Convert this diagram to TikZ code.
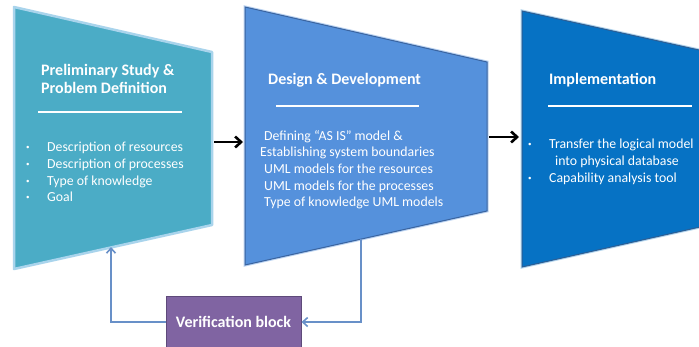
\documentclass[tikz,border=0pt]{standalone}
\usepackage{fontspec}
\setmainfont{Carlito}
\usetikzlibrary{arrows.meta}

\newcommand{\listdot}{\makebox[21pt][l]{\raisebox{2pt}{\scriptsize\textbullet}}}

\begin{document}
\begin{tikzpicture}[x=1pt, y=-1pt,
    title/.style={anchor=west, inner sep=0pt, text=white, font=\fontsize{16}{18.5}\selectfont\bfseries, align=left},
    body/.style={anchor=north west, inner sep=0pt, text=white, font=\fontsize{13.8}{16.7}\selectfont, align=left},
    rule/.style={white, line width=2.5pt},
    flow/.style={-{Straight Barb[length=6pt, width=11pt]}, line width=2.6pt, black},
    feedback/.style={-{Straight Barb[length=5pt, width=9pt]}, line width=1.6pt, feedblue}]
    % Define colors
    \definecolor{prelimteal}{HTML}{4BACC6}
    \definecolor{prelimglow}{HTML}{A9D4EC}
    \definecolor{designblue}{HTML}{5591DC}
    \definecolor{designedge}{HTML}{3A64A0}
    \definecolor{implblue}{HTML}{0672C4}
    \definecolor{impledge}{HTML}{2D5E94}
    \definecolor{verifpurple}{HTML}{8064A2}
    \definecolor{verifedge}{HTML}{5E4A7A}
    \definecolor{feedblue}{HTML}{6890C8}

    % Page frame (clips the third stage at the right edge)
    \clip (0,0) rectangle (699,346);
    \fill[white] (0,0) rectangle (699,346);

    % Stage 1: preliminary study
    \filldraw[fill=prelimteal, draw=prelimglow, line width=2.5pt, line join=round]
      (14,7) -- (212,52) -- (212,225) -- (14,269) -- cycle;
    \coordinate (prelim-east) at (212,142);
    \coordinate (prelim-bottom) at (111,247);

    % Stage 2: design and development
    \filldraw[fill=designblue, draw=designedge, line width=1pt,
      preaction={draw=designblue!40, line width=3pt}]
      (245,7) -- (487,62) -- (487,211) -- (245,265) -- cycle;
    \coordinate (design-west) at (245,142);
    \coordinate (design-east) at (487,137);
    \coordinate (design-bottom) at (361,239);

    % Stage 3: implementation (runs past the right edge)
    \filldraw[fill=implblue, draw=impledge, line width=1pt,
      preaction={draw=implblue!30, line width=3pt}]
      (522,11) -- (740,59) -- (740,218) -- (522,267) -- cycle;
    \coordinate (impl-west) at (522,137);

    % Titles and rules
    \node[title] (prelim-title) at (41,79) {Preliminary Study \&\\Problem Definition};
    \draw[rule] (38,112) -- (182,112);
    \node[title] (design-title) at (268,80) {Design \& Development};
    \draw[rule] (276,106) -- (419,106);
    \node[title] (impl-title) at (549,80) {Implementation};
    \draw[rule] (548,106) -- (692,106);

    % Bullet lists
    \node[body] (prelim-list) at (26,142) {%
      \listdot Description of resources\\
      \listdot Description of processes\\
      \listdot Type of knowledge\\
      \listdot Goal};
    \node[body] (design-list) at (260,130) {%
      \hspace{4pt}Defining “AS IS” model \&\\
      Establishing system boundaries\\
      \hspace{4pt}UML models for the resources\\
      \hspace{4pt}UML models for the processes\\
      \hspace{4pt}Type of knowledge UML models};
    \node[body] (impl-list) at (528,139) {%
      \listdot Transfer the logical model\\
      \hspace{27pt}into physical database\\
      \listdot Capability analysis tool};

    % Verification block
    \node[fill=verifpurple, draw=verifedge, line width=1pt, minimum width=135pt,
      minimum height=52pt, text=white, font=\fontsize{16}{19}\selectfont\bfseries]
      (verif) at (233.5,322) {Verification block};

    % Forward flow
    \draw[flow, shorten <=2pt, shorten >=2pt] (prelim-east) -- (design-west);
    \draw[flow, shorten <=2pt, shorten >=3pt] (design-east) -- (impl-west);

    % Feedback loop
    \draw[feedback] (design-bottom) |- (verif.east);
    \draw[feedback] (verif.west) -| (prelim-bottom);
\end{tikzpicture}
\end{document}
